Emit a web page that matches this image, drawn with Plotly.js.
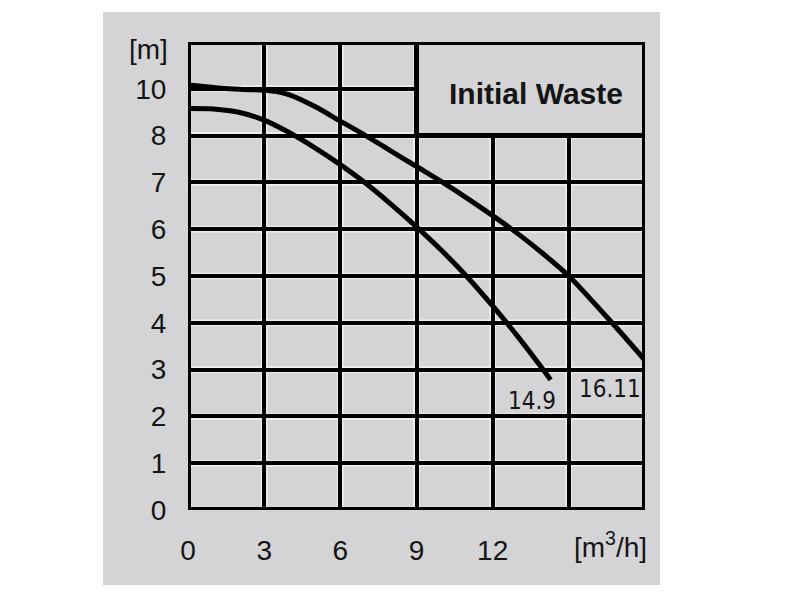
<!DOCTYPE html>
<html>
<head>
<meta charset="utf-8">
<script src="https://cdn.plot.ly/plotly-3.0.1.min.js"></script>
<style>html,body{margin:0;padding:0;background:#fff;}#chart{width:800px;height:600px;}</style>
</head>
<body>
<div id="chart"></div>
<script>
// Flow [m3/h] and head (in chart grid units; the tick at 9 is labelled "10")
const flowUpper = [0, 1, 2, 3, 3.5, 4, 5, 6, 7, 8, 9, 10, 11, 12, 13, 14, 15, 16, 17, 18];
const headUpper = [9.08, 9.03, 8.99, 8.97, 8.94, 8.87, 8.62, 8.31, 8.0, 7.67, 7.34, 7.01, 6.66, 6.29, 5.9, 5.47, 5.0, 4.42, 3.82, 3.2];
const flowLower = [0, 1, 2, 3, 4, 5, 6, 7, 8, 9, 10, 11, 12, 13, 14, 14.28];
const headLower = [8.58, 8.57, 8.50, 8.33, 8.06, 7.74, 7.38, 6.98, 6.53, 6.05, 5.54, 4.98, 4.36, 3.7, 2.99, 2.78];

const xTickVals = [0, 3, 6, 9, 12, 15];
const xTickText = ['0', '3', '6', '9', '12', ' '];
const yTickVals = [0, 1, 2, 3, 4, 5, 6, 7, 8, 9];
const yTickText = ['0', '1', '2', '3', '4', '5', '6', '7', '8', '10'];

const curveLabels = ['14.9', '16.11'];
const boxTitle = 'Initial Waste';
const yUnit = '[m]';
const xUnit = '[m<sup>3</sup>/h]';

const GREY = '#d4d4d6';
const INK = '#151515';
const FONT = 'Liberation Sans, Arial, sans-serif';
const NARROW = 'DejaVu Sans Condensed, Liberation Sans Narrow, sans-serif';

const traces = [
  {x: flowUpper, y: headUpper, mode: 'lines', line: {color: '#000', width: 5, shape: 'spline', smoothing: 0.8}, hoverinfo: 'skip'},
  {x: flowLower, y: headLower, mode: 'lines', line: {color: '#000', width: 5, shape: 'spline', smoothing: 0.8}, hoverinfo: 'skip'}
];

const shapes = [];
// grey panel behind the chart
shapes.push({type: 'rect', xref: 'paper', yref: 'paper', x0: -0.186, x1: 1.033, y0: -0.160, y1: 1.064,
  fillcolor: GREY, line: {width: 0}, layer: 'below'});
// light highlight lines beside the grid lines
xTickVals.forEach(v => shapes.push({type: 'line', xref: 'x', yref: 'y', x0: v, x1: v, y0: 0, y1: 10,
  line: {color: '#f0f0f0', width: 6.5}, layer: 'below'}));
yTickVals.forEach(v => shapes.push({type: 'line', xref: 'x', yref: 'y', x0: 0, x1: 18, y0: v, y1: v,
  line: {color: '#f0f0f0', width: 6.5}, layer: 'below'}));
// title box
shapes.push({type: 'rect', xref: 'x', yref: 'y', x0: 9, x1: 18, y0: 8, y1: 10,
  fillcolor: GREY, line: {color: '#000', width: 5}, layer: 'above'});
// plot frame
shapes.push({type: 'rect', xref: 'x', yref: 'y', x0: 0, x1: 18, y0: 0, y1: 10,
  fillcolor: 'rgba(0,0,0,0)', line: {color: '#000', width: 6}, layer: 'above'});

const annotations = [
  {text: boxTitle, xref: 'x', yref: 'y', x: 13.7, y: 8.91, showarrow: false,
   font: {family: FONT, size: 30, color: INK, weight: 'bold'}},
  {text: curveLabels[0], xref: 'x', yref: 'y', x: 13.55, y: 2.33, showarrow: false,
   font: {family: NARROW, size: 24, color: INK}},
  {text: curveLabels[1], xref: 'x', yref: 'y', x: 16.64, y: 2.58, showarrow: false,
   font: {family: NARROW, size: 24, color: INK}},
  {text: yUnit, xref: 'paper', yref: 'paper', x: -0.04, y: 0.985, xanchor: 'right', yanchor: 'middle', showarrow: false,
   font: {family: FONT, size: 28, color: INK}},
  {text: xUnit, xref: 'x', yref: 'paper', x: 16.66, y: -0.075, xanchor: 'center', yanchor: 'middle', showarrow: false,
   font: {family: FONT, size: 28, color: INK}}
];

const layout = {
  width: 800, height: 600,
  margin: {l: 188, r: 155, t: 42, b: 90},
  paper_bgcolor: '#ffffff',
  plot_bgcolor: GREY,
  showlegend: false,
  xaxis: {range: [0, 18], tickvals: xTickVals, ticktext: xTickText, showgrid: true, gridcolor: '#000', gridwidth: 4,
    zeroline: false, showline: false, ticks: 'outside', ticklen: 15, tickcolor: 'rgba(0,0,0,0)',
    tickfont: {family: FONT, size: 28, color: INK}, fixedrange: true},
  yaxis: {range: [0, 10], tickvals: yTickVals, ticktext: yTickText, showgrid: true, gridcolor: '#000', gridwidth: 4,
    zeroline: false, showline: false, ticks: 'outside', ticklen: 15, tickcolor: 'rgba(0,0,0,0)',
    tickfont: {family: FONT, size: 28, color: INK}, fixedrange: true},
  shapes: shapes,
  annotations: annotations
};

Plotly.newPlot('chart', traces, layout, {displayModeBar: false, staticPlot: true});
</script>
</body>
</html>
